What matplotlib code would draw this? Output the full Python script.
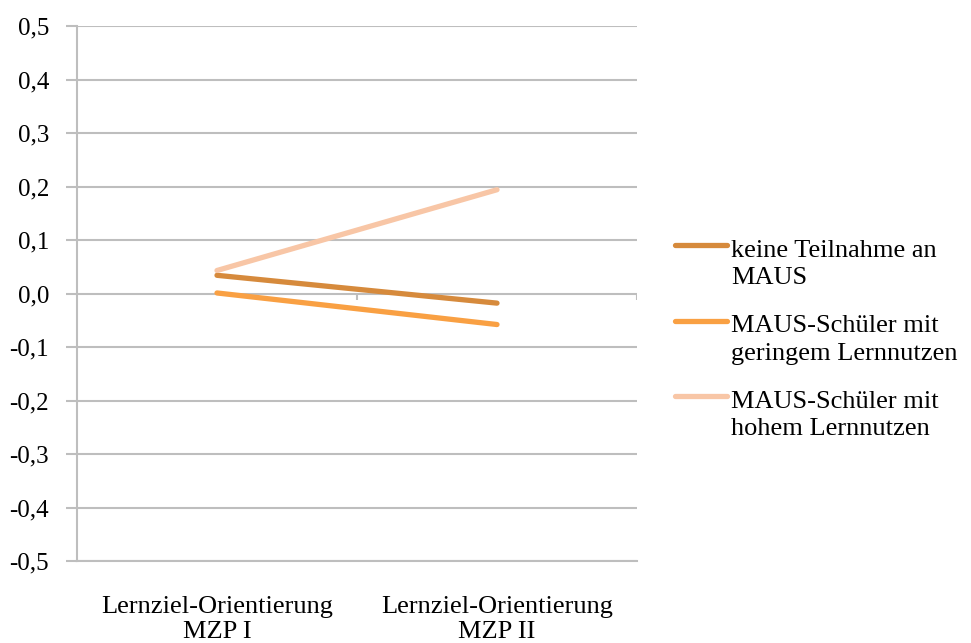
import matplotlib.pyplot as plt
from matplotlib.lines import Line2D
import numpy as np

plt.rcParams['font.family'] = ['Liberation Serif', 'DejaVu Serif']

# group means at the two measurement points
categories = ['Lernziel-Orientierung\nMZP I', 'Lernziel-Orientierung\nMZP II']
keine_teilnahme = [0.034, -0.018]
geringer_nutzen = [0.001, -0.058]
hoher_nutzen = [0.043, 0.194]

series = [
    ('keine Teilnahme an\nMAUS', keine_teilnahme, '#D68A3C'),
    ('MAUS-Schüler mit\ngeringem Lernnutzen', geringer_nutzen, '#F9A043'),
    ('MAUS-Schüler mit\nhohem Lernnutzen', hoher_nutzen, '#F8C6A6'),
]

W, H = 971, 643
fig = plt.figure(figsize=(W / 100, H / 100), dpi=100)
ax = fig.add_axes([77 / W, 1 - 561 / H, 560 / W, 535 / H])

x = np.arange(len(categories)) + 0.5
for label, vals, col in series:
    ax.plot(x, vals, color=col, linewidth=3.8, solid_capstyle='round', zorder=3)

ax.set_xlim(0, len(categories))
ax.set_ylim(-0.5, 0.5)
yt = np.arange(-0.5, 0.51, 0.1)
ax.set_yticks(yt)
ax.set_yticklabels([f'{v:.1f}'.replace('.', ',').replace('-0,0', '0,0') for v in yt])
ax.yaxis.grid(True, color='#BEBEBE', linewidth=1.5)
ax.set_axisbelow(True)

# category axis crosses at zero: small ticks at the category boundaries
ax.vlines(np.arange(1, len(categories) + 1), -0.012, 0, color='#BEBEBE', linewidth=1.5)

ax.set_xticks(x)
ax.set_xticklabels(categories, fontsize=19, linespacing=1.18)
ax.tick_params(axis='x', length=0, pad=25)
ax.tick_params(axis='y', length=8, width=1.5, color='#BEBEBE', labelsize=18, pad=12)

for s in ['top', 'right']:
    ax.spines[s].set_visible(False)
for s in ['left', 'bottom']:
    ax.spines[s].set_color('#BEBEBE')
    ax.spines[s].set_linewidth(1.5)

# legend: handle sits beside the first line of each label
for i, (label, vals, col) in enumerate(series):
    y0 = 245 + i * 75.5
    fig.add_artist(Line2D([675 / W, 727 / W], [1 - y0 / H] * 2, color=col,
                          linewidth=3.8, solid_capstyle='round'))
    fig.text(731 / W, 1 - (y0 - 5) / H, label, fontsize=19, va='top', ha='left',
             linespacing=1.3)

fig.savefig('out.png', dpi=100)
